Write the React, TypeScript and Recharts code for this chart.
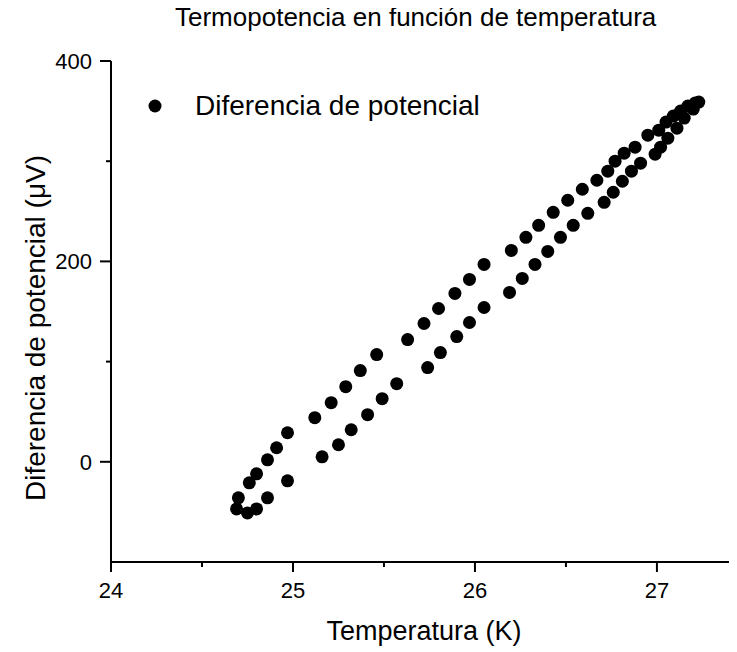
import React from "react";
import { ScatterChart, Scatter, XAxis, YAxis, Legend, Label } from "recharts";

// Upper branch of the loop (temperature in K, potential in µV)
const tempUpper = [
  24.69, 24.7, 24.76, 24.8, 24.86, 24.91, 24.97, 25.12, 25.21, 25.29, 25.37,
  25.46, 25.63, 25.72, 25.8, 25.89, 25.97, 26.05, 26.2, 26.28, 26.35, 26.43,
  26.51, 26.59, 26.67, 26.73, 26.77, 26.82, 26.88, 26.95, 27.01, 27.05, 27.09,
  27.13, 27.17, 27.21,
];
const potUpper = [
  -47, -36, -21, -12, 2, 14, 29, 44, 59, 75, 91, 107, 122, 138, 153, 168, 182,
  197, 211, 224, 236, 249, 261, 272, 281, 290, 300, 308, 314, 326, 331, 339,
  345, 350, 355, 358,
];

// Lower branch of the loop
const tempLower = [
  24.75, 24.8, 24.86, 24.97, 25.16, 25.25, 25.32, 25.41, 25.49, 25.57, 25.74,
  25.81, 25.9, 25.97, 26.05, 26.19, 26.26, 26.33, 26.4, 26.47, 26.54, 26.62,
  26.71, 26.76, 26.81, 26.86, 26.91, 26.99, 27.02, 27.06, 27.11, 27.15, 27.2,
  27.23,
];
const potLower = [
  -51, -47, -36, -19, 5, 17, 32, 47, 63, 78, 94, 109, 125, 139, 154, 169, 183,
  197, 210, 224, 236, 248, 259, 269, 280, 290, 298, 307, 314, 323, 333, 343,
  352, 359,
];

const xTicks = [24, 24.5, 25, 25.5, 26, 26.5, 27];
const yTicks = [0, 100, 200, 300, 400];
const xDomain = [24, 27.44];
const yDomain = [-100, 400];

const FONT = '"Liberation Sans", Arial, sans-serif';

const data = [
  ...tempUpper.map((t, i) => ({ t, v: potUpper[i] })),
  ...tempLower.map((t, i) => ({ t, v: potLower[i] })),
];

// bottom axis: long ticks with labels on whole kelvins, short ones between
const XTick = (props: any) => {
  const { x, y, payload } = props;
  const major = Number.isInteger(payload.value);
  return (
    <g>
      <line x1={x} x2={x} y1={y} y2={y + (major ? 10 : 5)} stroke="#000" strokeWidth={2} />
      {major && (
        <text x={x} y={y + 20} dy="0.71em" textAnchor="middle" fontSize={22} fontFamily={FONT} fill="#000">
          {payload.value}
        </text>
      )}
    </g>
  );
};

const YTick = (props: any) => {
  const { x, y, payload } = props;
  const major = payload.value % 200 === 0;
  return (
    <g>
      <line x1={x - (major ? 11 : 5)} x2={x} y1={y} y2={y} stroke="#000" strokeWidth={2} />
      {major && (
        <text x={x - 19} y={y} dy="0.355em" textAnchor="end" fontSize={22} fontFamily={FONT} fill="#000">
          {payload.value}
        </text>
      )}
    </g>
  );
};

const Dot = (props: any) => <circle cx={props.cx} cy={props.cy} r={6.5} fill="#000" />;

const LegendBox = () => (
  <div style={{ display: "flex", alignItems: "center", fontFamily: FONT }}>
    <svg width={14} height={14}>
      <circle cx={7} cy={7} r={6.5} fill="#000" />
    </svg>
    <span style={{ marginLeft: 33, fontSize: 28, color: "#000" }}>Diferencia de potencial</span>
  </div>
);

export default function App() {
  return (
    <div style={{ position: "relative", width: 729, height: 644 }}>
      <div
        style={{
          position: "absolute",
          top: -6,
          left: 167,
          fontFamily: FONT,
          fontSize: 26,
          lineHeight: "30px",
          whiteSpace: "nowrap",
          color: "#000",
        }}
      >
        Termopotencia en función de temperatura
      </div>
      <ScatterChart width={729} height={644} margin={{ top: 53, right: 0, bottom: 30, left: 0 }}>
        <XAxis
          xAxisId="top"
          orientation="top"
          type="number"
          domain={xDomain}
          allowDataOverflow
          height={0}
          tick={false}
          tickLine={false}
          axisLine={{ stroke: "#000", strokeWidth: 2 }}
        />
        <XAxis
          dataKey="t"
          type="number"
          domain={xDomain}
          allowDataOverflow
          ticks={xTicks}
          interval={0}
          height={60}
          tickSize={0}
          tickMargin={0}
          tickLine={false}
          tick={<XTick />}
          axisLine={{ stroke: "#000", strokeWidth: 2 }}
        >
          <Label
            content={() => (
              <text x={416} y={632} textAnchor="middle" fontSize={27} fontFamily={FONT} fill="#000">
                Temperatura (K)
              </text>
            )}
          />
        </XAxis>
        <YAxis
          dataKey="v"
          type="number"
          domain={yDomain}
          allowDataOverflow
          ticks={yTicks}
          interval={0}
          width={103}
          tickSize={0}
          tickMargin={0}
          tickLine={false}
          tick={<YTick />}
          axisLine={{ stroke: "#000", strokeWidth: 2 }}
        >
          <Label
            content={() => (
              <text
                x={27}
                y={320}
                transform="rotate(-90, 27, 320)"
                textAnchor="middle"
                dominantBaseline="central"
                fontSize={28}
                fontFamily={FONT}
                fill="#000"
              >
                Diferencia de potencial (μV)
              </text>
            )}
          />
        </YAxis>
        <Legend
          layout="horizontal"
          verticalAlign="middle"
          align="center"
          wrapperStyle={{ top: 82, left: 140, width: 420 }}
          content={<LegendBox />}
        />
        <Scatter name="Diferencia de potencial" data={data} fill="#000" shape={<Dot />} isAnimationActive={false} />
      </ScatterChart>
    </div>
  );
}
